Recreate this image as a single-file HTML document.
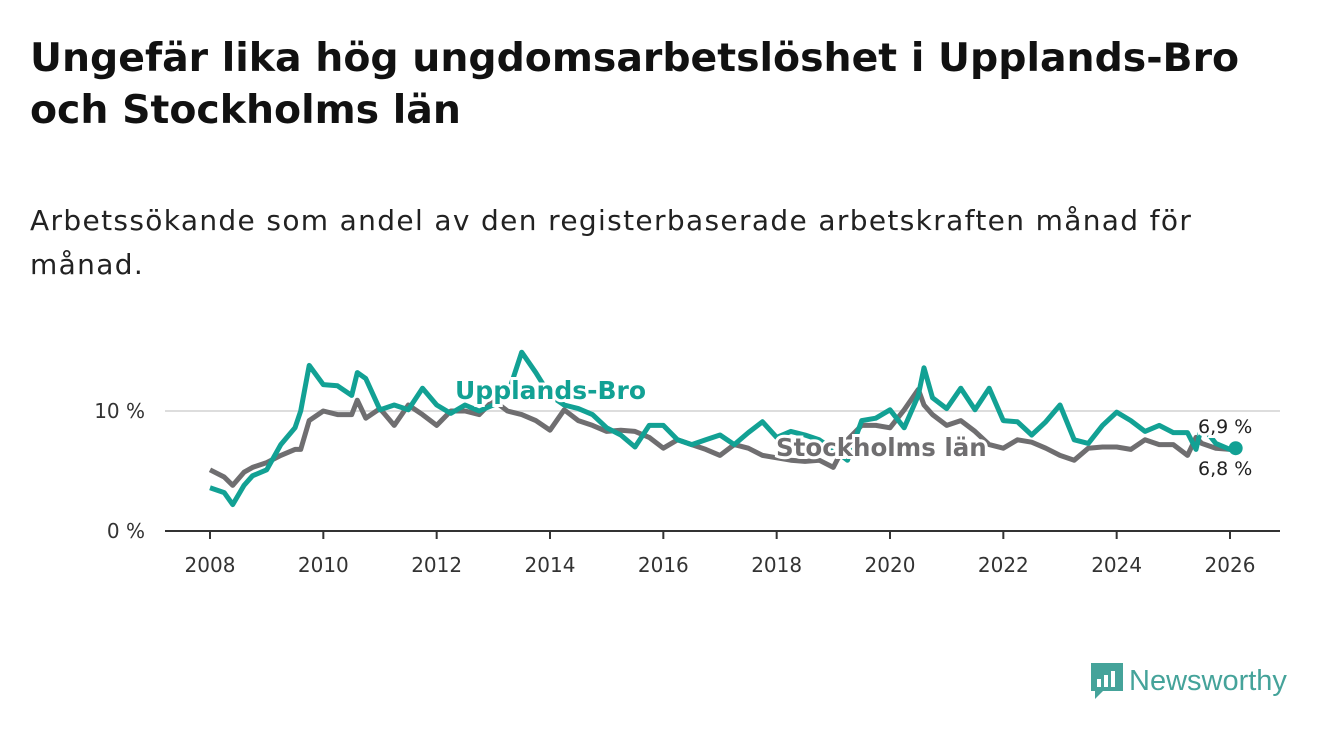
<!DOCTYPE html>
<html><head><meta charset="utf-8"><style>
body{margin:0;width:1340px;height:734px;background:#fff;font-family:"DejaVu Sans","Liberation Sans",sans-serif;overflow:hidden;position:relative}
h1{position:absolute;left:30px;top:32px;margin:0;font-size:39.4px;line-height:52px;font-weight:bold;color:#111;white-space:nowrap}
p{position:absolute;left:30px;top:199px;margin:0;font-size:28px;line-height:44px;color:#222;white-space:nowrap;letter-spacing:1.35px}
svg{position:absolute;left:0;top:0}
</style></head><body>
<h1>Ungefär lika hög ungdomsarbetslöshet i Upplands-Bro<br>och Stockholms län</h1>
<p>Arbetssökande som andel av den registerbaserade arbetskraften månad för<br>månad.</p>
<svg id="chart" width="1340" height="734"></svg>
<script>
const years=[2008,2008.25,2008.4,2008.6,2008.75,2009,2009.25,2009.5,2009.6,2009.75,2010,2010.25,2010.5,2010.6,2010.75,2011,2011.25,2011.5,2011.75,2012,2012.25,2012.5,2012.75,2013,2013.25,2013.5,2013.75,2014,2014.25,2014.5,2014.75,2015,2015.25,2015.5,2015.75,2016,2016.25,2016.5,2016.75,2017,2017.25,2017.5,2017.75,2018,2018.25,2018.5,2018.75,2019,2019.25,2019.5,2019.75,2020,2020.25,2020.5,2020.6,2020.75,2021,2021.25,2021.5,2021.75,2022,2022.25,2022.5,2022.75,2023,2023.25,2023.5,2023.75,2024,2024.25,2024.5,2024.75,2025,2025.25,2025.4,2025.5,2025.75,2026,2026.1];
const upplandsBro=[3.6,3.2,2.2,3.8,4.6,5.1,7.2,8.6,10,13.8,12.2,12.1,11.3,13.2,12.7,10.1,10.5,10.1,11.9,10.5,9.8,10.5,10,10.5,11.3,14.9,13.2,11.3,10.5,10.2,9.7,8.6,8,7,8.8,8.8,7.6,7.2,7.6,8,7.2,8.2,9.1,7.8,8.3,8,7.6,6.8,5.9,9.2,9.4,10.1,8.6,11.3,13.6,11.1,10.2,11.9,10.1,11.9,9.2,9.1,8,9.1,10.5,7.6,7.3,8.8,9.9,9.2,8.3,8.8,8.2,8.2,6.8,8.8,7.3,6.8,6.9];
const stockholm=[5.1,4.5,3.8,4.9,5.3,5.7,6.3,6.8,6.8,9.2,10,9.7,9.7,10.9,9.4,10.2,8.8,10.5,9.7,8.8,10,10,9.7,10.9,10,9.7,9.2,8.4,10.1,9.2,8.8,8.3,8.4,8.3,7.8,6.9,7.6,7.2,6.8,6.3,7.2,6.9,6.3,6.1,5.9,5.8,5.9,5.3,7.6,8.8,8.8,8.6,10.1,11.8,10.5,9.7,8.8,9.2,8.3,7.2,6.9,7.6,7.4,6.9,6.3,5.9,6.9,7,7,6.8,7.6,7.2,7.2,6.3,7.8,7.3,6.9,6.8,6.8];
const xTicks=[2008,2010,2012,2014,2016,2018,2020,2022,2024,2026];
const yTicks=[0,10];
const yTickLabels=["0 %","10 %"];
const NS="http://www.w3.org/2000/svg";
const svg=document.getElementById('chart');
const x=v=>210+(v-2008)*(1230-210)/18;
const y=v=>531-v*12;
function mk(t,a,p){const e=document.createElementNS(NS,t);for(const k in a)e.setAttribute(k,a[k]);(p||svg).appendChild(e);return e;}
yTicks.forEach((t,i)=>{
 if(t>0){const g=mk('line',{x1:165,x2:1280,y1:y(t),y2:y(t),stroke:'#ddd','stroke-width':2});
 
 }
 const l=mk('text',{x:145,y:y(t)+7,'text-anchor':'end','font-size':20,fill:'#333'});l.textContent=yTickLabels[i];
 
 
});
const ax=mk('line',{x1:165,x2:1280,y1:531,y2:531,stroke:'#333','stroke-width':2});


xTicks.forEach(t=>{
 mk('line',{x1:x(t),x2:x(t),y1:531,y2:539,stroke:'#333','stroke-width':2});
 const l=mk('text',{x:x(t),y:572,'text-anchor':'middle','font-size':20,fill:'#333'});l.textContent=t;
 
 
});
function path(vals){return vals.map((v,i)=>(i?'L':'M')+x(years[i]).toFixed(1)+','+y(v).toFixed(1)).join('');}
const sg=mk('path',{d:path(stockholm),fill:'none',stroke:'#6f6e70','stroke-width':5,'stroke-linejoin':'round'});


const ub=mk('path',{d:path(upplandsBro),fill:'none',stroke:'#12a194','stroke-width':5,'stroke-linejoin':'round'});


const n=years.length-1;
const dot=mk('circle',{cx:x(years[n]),cy:y(upplandsBro[n]),r:7,fill:'#12a194'});


function lab(txt,xx,yy,col,name,size,bold){
 const t=mk('text',{x:xx,y:yy,'font-size':size,'font-weight':bold?'bold':'normal',fill:col,stroke:'#fff','stroke-width':6,'paint-order':'stroke'});t.textContent=txt;
 
 
}
lab('Upplands-Bro',455,399,'#12a194','upplands-bro-label',25,true);
lab('Stockholms län',776,456,'#6f6e70','stockholms-lan-label',24.5,true);
lab('6,9 %',1198,433,'#222','upplands-bro-value',19,false);
lab('6,8 %',1198,475,'#222','stockholm-value',19,false);
</script>
<div style="position:absolute;left:1089px;top:661px;display:flex;align-items:center;font-family:'Liberation Sans',sans-serif">
<svg width="36" height="40" style="position:static"><path d="M2 2h32v28H14l-8 8v-8H2z" fill="#45a39a"/><rect x="8" y="18" width="4" height="8" fill="#fff"/><rect x="15" y="14" width="4" height="12" fill="#fff"/><rect x="22" y="10" width="4" height="16" fill="#fff"/></svg>
<span style="font-size:29px;color:#45a39a;margin-left:4px">Newsworthy</span></div>
</body></html>
